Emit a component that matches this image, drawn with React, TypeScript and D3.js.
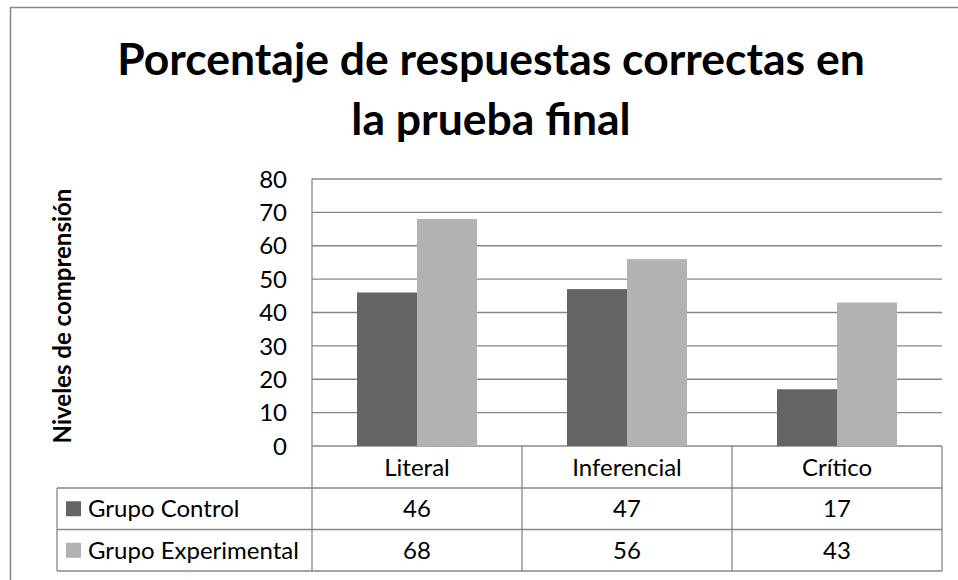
import React from 'react';
import * as d3 from 'd3';

const categories = ['Literal', 'Inferencial', 'Crítico'];
const seriesNames = ['Grupo Control', 'Grupo Experimental'];
const grupoControl = [46, 47, 17];
const grupoExperimental = [68, 56, 43];
const seriesValues = [grupoControl, grupoExperimental];
const yTicks = [0, 10, 20, 30, 40, 50, 60, 70, 80];
const seriesColors = ['#646464', '#b2b2b2'];
const titleLines = ['Porcentaje de respuestas correctas en', 'la prueba final'];
const yAxisTitle = 'Niveles de comprensión';

const FONT = "Lato, 'Open Sans', sans-serif";
const GRID = '#878787';

export default function App() {
  const W = 958, H = 580;
  const plotL = 312, plotR = 942, plotT = 179, plotB = 446;
  const tableL = 57;
  const rowEdges = [plotB, 488, 529.5, 571];

  const y = d3.scaleLinear().domain([0, 80]).range([plotB, plotT]);
  const x0 = d3.scaleBand<string>().domain(categories).range([plotL, plotR]);
  const x1 = d3
    .scaleBand<string>()
    .domain(seriesNames)
    .range([0, x0.bandwidth()])
    .paddingInner(0)
    .paddingOuter(0.75);

  const colEdges = [...categories.map((c) => x0(c) as number), plotR];

  return (
    <svg
      width={W}
      height={H}
      viewBox={`0 0 ${W} ${H}`}
      style={{ position: 'absolute', left: 0, top: 0, background: '#fff' }}
      fontFamily={FONT}
    >
      <rect x={0} y={0} width={W} height={H} fill="#fff" />
      {/* outer chart border */}
      <rect x={10.5} y={7.5} width={W + 20} height={H + 20} fill="none" stroke={GRID} strokeWidth={1.5} />

      {/* title */}
      <text textAnchor="middle" fontWeight="bold" fontSize={44.5} fill="#000">
        <tspan x={491} y={75}>{titleLines[0]}</tspan>
        <tspan x={491} y={135}>{titleLines[1]}</tspan>
      </text>

      {/* y axis title */}
      <text
        transform={`translate(71, ${316}) rotate(-90)`}
        textAnchor="middle"
        fontWeight="bold"
        fontSize={24}
        fill="#000"
      >
        {yAxisTitle}
      </text>

      {/* gridlines */}
      {yTicks.map((t) => (
        <line key={'g' + t} x1={plotL} x2={plotR} y1={y(t)} y2={y(t)} stroke={GRID} strokeWidth={1.3} />
      ))}

      {/* tick labels */}
      {yTicks.map((t) => (
        <text key={'t' + t} x={287} y={y(t)} dy="0.36em" textAnchor="end" fontSize={24} fill="#000">
          {t}
        </text>
      ))}

      {/* bars */}
      {categories.map((c, ci) =>
        seriesNames.map((s, si) => {
          const v = seriesValues[si][ci];
          return (
            <rect
              key={c + s}
              x={(x0(c) as number) + (x1(s) as number)}
              y={y(v)}
              width={x1.bandwidth()}
              height={y(0) - y(v)}
              fill={seriesColors[si]}
            />
          );
        })
      )}

      {/* data table lines */}
      <line x1={plotL} x2={plotL} y1={plotT} y2={rowEdges[3]} stroke={GRID} strokeWidth={1.3} />
      {colEdges.slice(1).map((cx, i) => (
        <line key={'v' + i} x1={cx} x2={cx} y1={plotB} y2={rowEdges[3]} stroke={GRID} strokeWidth={1.3} />
      ))}
      <line x1={tableL} x2={tableL} y1={rowEdges[1]} y2={rowEdges[3]} stroke={GRID} strokeWidth={1.3} />
      {rowEdges.slice(1).map((ry, i) => (
        <line key={'h' + i} x1={tableL} x2={plotR} y1={ry} y2={ry} stroke={GRID} strokeWidth={1.3} />
      ))}

      {/* category labels */}
      {categories.map((c) => (
        <text
          key={'c' + c}
          x={(x0(c) as number) + x0.bandwidth() / 2}
          y={(rowEdges[0] + rowEdges[1]) / 2}
          dy="0.36em"
          textAnchor="middle"
          fontSize={24}
          fill="#000"
        >
          {c}
        </text>
      ))}

      {/* series rows */}
      {seriesNames.map((s, si) => {
        const cy = (rowEdges[si + 1] + rowEdges[si + 2]) / 2;
        return (
          <g key={'r' + s}>
            <rect x={66} y={cy - 7.5} width={15} height={15} fill={seriesColors[si]} />
            <text x={88} y={cy} dy="0.36em" fontSize={24} fill="#000">
              {s}
            </text>
            {categories.map((c, ci) => (
              <text
                key={c}
                x={(x0(c) as number) + x0.bandwidth() / 2}
                y={cy}
                dy="0.36em"
                textAnchor="middle"
                fontSize={24}
                fill="#000"
              >
                {seriesValues[si][ci]}
              </text>
            ))}
          </g>
        );
      })}
    </svg>
  );
}
